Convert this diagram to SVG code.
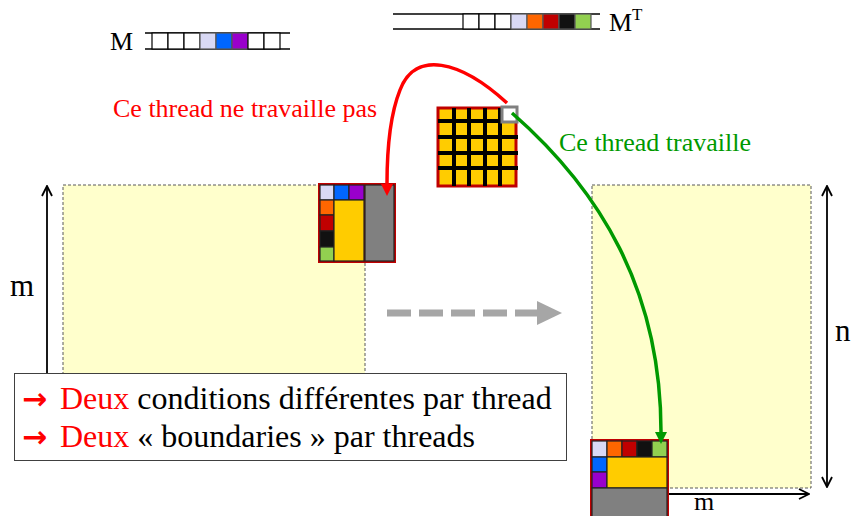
<svg xmlns="http://www.w3.org/2000/svg" width="852" height="516" viewBox="0 0 852 516">
  <style>
    text { font-family: "Liberation Serif", "DejaVu Serif", "Times New Roman", serif; }
    .lbl { font-size: 26px; }
    .dim { font-size: 31px; fill: #000; }
    .arr { font-family: "DejaVu Sans", sans-serif; font-weight: bold; font-size: 30px; }
    .cell { stroke: #222; stroke-width: 1.2; }
    .ccell { stroke: #555; stroke-width: 1.2; }
    .wcell { fill: #fff; stroke: #000; stroke-width: 1.2; }
    .area { fill: #ffffcc; stroke: #595959; stroke-width: 1; stroke-dasharray: 3 2; }
    .dimline { stroke: #000; stroke-width: 1.8; fill: none; }
    .lav { fill: #d9d9f5; } .blu { fill: #0066ff; } .pur { fill: #9900cc; }
    .org { fill: #ff6600; } .drd { fill: #c00000; } .blk { fill: #111; }
    .grn { fill: #92d050; } .gld { fill: #ffcc00; } .gry { fill: #808080; }
  </style>
  <defs>
    <marker id="open" viewBox="0 0 12 12" refX="11" refY="6" markerWidth="12" markerHeight="12" markerUnits="userSpaceOnUse" orient="auto-start-reverse">
      <path d="M1,1 L11,6 L1,11" fill="none" stroke="#000" stroke-width="1.8"/>
    </marker>
    <marker id="redHead" viewBox="0 0 12 12" refX="0" refY="6" markerWidth="12" markerHeight="12" markerUnits="userSpaceOnUse" orient="auto">
      <path d="M0,0 L12,6 L0,12 Z" fill="#ff0000"/>
    </marker>
    <marker id="greenHead" viewBox="0 0 12 12" refX="0" refY="6" markerWidth="12" markerHeight="12" markerUnits="userSpaceOnUse" orient="auto">
      <path d="M0,0 L12,6 L0,12 Z" fill="#009900"/>
    </marker>
  </defs>

  <rect width="852" height="516" fill="#fff"/>

  <!-- row array M -->
  <g id="array-m">
    <text class="lbl" x="110" y="50">M</text>
    <line x1="145" y1="33" x2="290" y2="33" stroke="#000" stroke-width="1.5"/>
    <line x1="145" y1="49" x2="290" y2="49" stroke="#000" stroke-width="1.5"/>
    <rect class="wcell" x="152" y="33" width="16" height="16"/>
    <rect class="wcell" x="168" y="33" width="16" height="16"/>
    <rect class="wcell" x="184" y="33" width="16" height="16"/>
    <rect class="ccell lav" x="200" y="33" width="16" height="16"/>
    <rect class="ccell blu" x="216" y="33" width="16" height="16"/>
    <rect class="ccell pur" x="232" y="33" width="16" height="16"/>
    <rect class="wcell" x="248" y="33" width="16" height="16"/>
    <rect class="wcell" x="264" y="33" width="16" height="16"/>
  </g>

  <!-- row array M^T -->
  <g id="array-mt">
    <line x1="393" y1="14" x2="600" y2="14" stroke="#000" stroke-width="1.5"/>
    <line x1="393" y1="29" x2="600" y2="29" stroke="#000" stroke-width="1.5"/>
    <rect class="wcell" x="463" y="14" width="16" height="15"/>
    <rect class="wcell" x="479" y="14" width="16" height="15"/>
    <rect class="wcell" x="495" y="14" width="16" height="15"/>
    <rect class="ccell lav" x="511" y="14" width="16" height="15"/>
    <rect class="ccell org" x="527" y="14" width="16" height="15"/>
    <rect class="ccell drd" x="543" y="14" width="16" height="15"/>
    <rect class="ccell blk" x="559" y="14" width="16" height="15"/>
    <rect class="ccell grn" x="575" y="14" width="16" height="15"/>
    <text class="lbl" x="609" y="31">M</text>
    <text font-size="17" x="632" y="20">T</text>
  </g>

  <!-- labels -->
  <text id="label-idle" class="lbl" x="113" y="117" fill="#ff0000">Ce thread ne travaille pas</text>
  <text id="label-busy" class="lbl" x="559" y="151" fill="#009900">Ce thread travaille</text>

  <!-- input matrix (m x n) -->
  <g id="matrix-in">
    <rect class="area" x="63" y="185" width="302" height="218"/>
    <line class="dimline" x1="47" y1="403" x2="47" y2="186" marker-end="url(#open)"/>
    <text class="dim" x="10" y="296">m</text>
  </g>

  <!-- output matrix (n x m) -->
  <g id="matrix-out">
    <rect class="area" x="592" y="185" width="219" height="303"/>
    <line class="dimline" x1="827" y1="186" x2="827" y2="487" marker-start="url(#open)" marker-end="url(#open)"/>
    <text class="dim" x="835" y="341">n</text>
    <line class="dimline" x1="668" y1="494" x2="809" y2="494" marker-end="url(#open)"/>
    <text x="694" y="510" font-size="26">m</text>
  </g>

  <!-- thread block grid -->
  <g id="thread-grid">
    <rect x="438" y="108" width="78" height="78" fill="#ffcc00" stroke="#c00000" stroke-width="3"/>
    <g stroke="#000" stroke-width="4">
      <line x1="454" y1="108" x2="454" y2="186"/>
      <line x1="469" y1="108" x2="469" y2="186"/>
      <line x1="485" y1="108" x2="485" y2="186"/>
      <line x1="500" y1="108" x2="500" y2="186"/>
      <line x1="438" y1="121" x2="518" y2="121"/>
      <line x1="438" y1="137" x2="518" y2="137"/>
      <line x1="438" y1="153" x2="518" y2="153"/>
      <line x1="438" y1="168" x2="518" y2="168"/>
    </g>
    <rect x="502" y="107" width="15" height="15" fill="#fff" stroke="#808080" stroke-width="3"/>
  </g>

  <!-- tile read from the input -->
  <g id="tile-in">
    <rect x="318" y="183" width="78" height="80" fill="#c00000"/>
    <rect class="cell lav" x="320" y="185" width="14" height="15"/>
    <rect class="cell blu" x="334" y="185" width="15" height="15"/>
    <rect class="cell pur" x="349" y="185" width="15" height="15"/>
    <rect class="cell org" x="320" y="200" width="14" height="15"/>
    <rect class="cell drd" x="320" y="215" width="14" height="16"/>
    <rect class="cell blk" x="320" y="231" width="14" height="16"/>
    <rect class="cell grn" x="320" y="247" width="14" height="14"/>
    <rect class="cell gld" x="334" y="200" width="30" height="61"/>
    <rect class="cell gry" x="365" y="185" width="29" height="76"/>
  </g>

  <!-- tile written to the output -->
  <g id="tile-out">
    <rect x="590" y="439" width="79" height="80" fill="#c00000"/>
    <rect class="cell lav" x="592" y="441" width="15" height="16"/>
    <rect class="cell org" x="607" y="441" width="15" height="16"/>
    <rect class="cell drd" x="622" y="441" width="15" height="16"/>
    <rect class="cell blk" x="637" y="441" width="15" height="16"/>
    <rect class="cell grn" x="652" y="441" width="15" height="16"/>
    <rect class="cell blu" x="592" y="457" width="15" height="15"/>
    <rect class="cell pur" x="592" y="472" width="15" height="16"/>
    <rect class="cell gld" x="607" y="457" width="60" height="31"/>
    <rect class="cell gry" x="592" y="488" width="75" height="30"/>
  </g>

  <!-- connectors -->
  <g id="connectors" fill="none">
    <path d="M507,103 C460,60 415,50 400,90 C390,115 387,150 387,184" stroke="#ff0000" stroke-width="3.5" marker-end="url(#redHead)"/>
    <path d="M512,113 C600,190 661,290 661,432" stroke="#009900" stroke-width="3.5" marker-end="url(#greenHead)"/>
    <line x1="387" y1="313" x2="539" y2="313" stroke="#a6a6a6" stroke-width="7" stroke-dasharray="24 8"/>
    <polygon points="537,301 562,313 537,325" fill="#a6a6a6"/>
  </g>

  <!-- note box -->
  <g id="note">
    <rect x="14.5" y="373.5" width="552" height="87" fill="#fff" stroke="#404040" stroke-width="1"/>
    <text x="22" y="409" font-size="32"><tspan class="arr" fill="#ff0000">→</tspan><tspan x="60" fill="#ff0000">Deux</tspan> conditions différentes par thread</text>
    <text x="22" y="447" font-size="32"><tspan class="arr" fill="#ff0000">→</tspan><tspan x="60" fill="#ff0000">Deux</tspan> « boundaries » par threads</text>
  </g>
</svg>
